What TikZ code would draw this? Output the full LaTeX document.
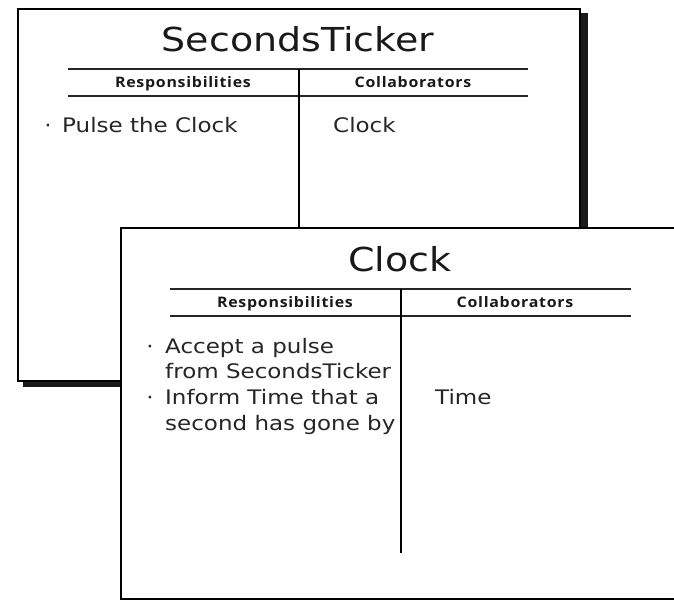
\documentclass[tikz,border=0pt]{standalone}
\usepackage{fontspec}
\newfontfamily\handfont[FakeStretch=1.15]{DejaVu Sans}
\newfontfamily\headfont[FakeStretch=1.1,LetterSpace=5]{Open Sans}
\begin{document}
\begin{tikzpicture}[x=1pt,y=-1pt,
  cardframe/.style={draw=black, fill=white, line width=1.6pt},
  shade/.style={fill=black!90, draw=none},
  rule/.style={line width=2pt, draw=black!85},
  divider/.style={line width=1.8pt, draw=black},
  title/.style={inner sep=0pt, anchor=base, font=\handfont\fontsize{33}{36}\selectfont, text=black!90},
  head/.style={inner sep=0pt, anchor=base, font=\headfont\bfseries\fontsize{14.5}{16}\selectfont, text=black!90},
  item/.style={inner sep=0pt, anchor=base west, font=\handfont\fontsize{20}{23}\selectfont, text=black!85},
  dot/.style={inner sep=0pt, anchor=base, font=\handfont\fontsize{20}{23}\selectfont, text=black!85}]
\useasboundingbox (0,0) rectangle (674,601);

% ---- SecondsTicker card (behind) ----
\fill[shade] (579,13) rectangle (588,387);
\fill[shade] (23,380) rectangle (588,387);
\node[cardframe, minimum width=562pt, minimum height=372pt, inner sep=0pt, anchor=north west] (st) at (17,8) {};
\node[title] (sttitle) at (298,52) {SecondsTicker};
\coordinate (stl1) at (68,69);  \coordinate (str1) at (528,69);
\coordinate (stl2) at (68,96);  \coordinate (str2) at (528,96);
\coordinate (sttop) at (299,69); \coordinate (stbot) at (299,232);
\draw[rule] (stl1) -- (str1);
\draw[rule] (stl2) -- (str2);
\draw[divider] (sttop) -- (stbot);
\node[head] (stresp) at (183,88) {Responsibilities};
\node[head] (stcoll) at (413,88) {Collaborators};
\node[dot] (stb1) at (48,133) {·};
\node[item] (stitem1) at (62,133) {Pulse the Clock};
\node[item] (stcol1) at (333,133) {Clock};

% ---- Clock card (front) ----
\node[cardframe, minimum width=580pt, minimum height=371pt, inner sep=0pt, anchor=north west] (ck) at (120,227) {};
\node[title] (cktitle) at (400,272) {Clock};
\coordinate (ckl1) at (170,289); \coordinate (ckr1) at (631,289);
\coordinate (ckl2) at (170,316); \coordinate (ckr2) at (631,316);
\coordinate (cktop) at (401,289); \coordinate (ckbot) at (401,553);
\draw[rule] (ckl1) -- (ckr1);
\draw[rule] (ckl2) -- (ckr2);
\draw[divider] (cktop) -- (ckbot);
\node[head] (ckresp) at (285,308) {Responsibilities};
\node[head] (ckcoll) at (515,308) {Collaborators};
\node[dot] (ckb1) at (150,353) {·};
\node[item] (ckitem1) at (165,353) {Accept a pulse};
\node[item] (ckitem2) at (165,378) {from SecondsTicker};
\node[dot] (ckb2) at (150,404) {·};
\node[item] (ckitem3) at (165,404) {Inform Time that a};
\node[item] (ckitem4) at (165,430) {second has gone by};
\node[item] (ckcol1) at (435,404) {Time};
\end{tikzpicture}
\end{document}
